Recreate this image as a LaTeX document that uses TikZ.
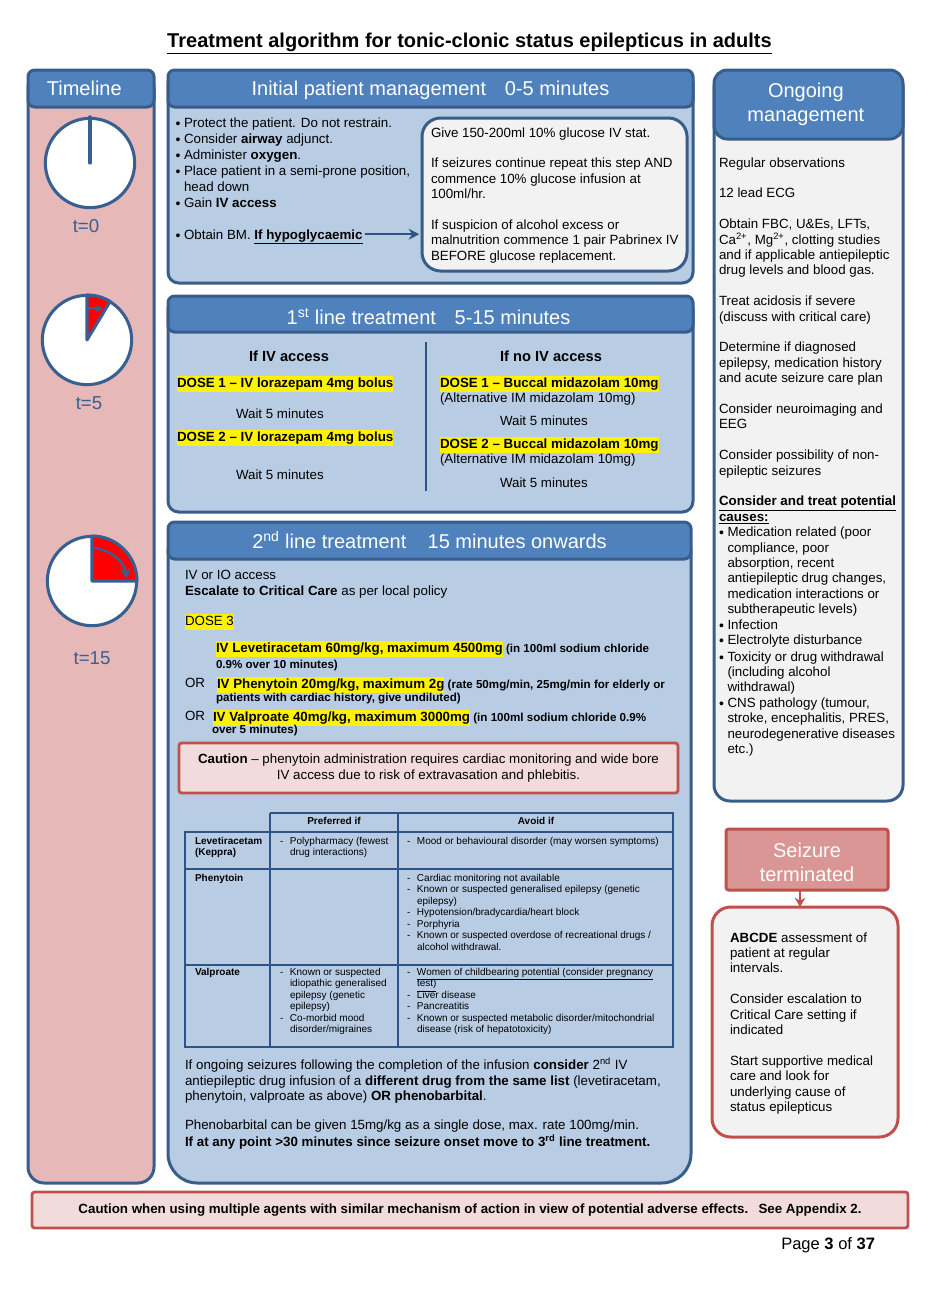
\documentclass[tikz,border=0pt]{standalone}
\usepackage{fontspec}
\setmainfont{Liberation Sans}
\usetikzlibrary{arrows.meta}
\definecolor{hdr}{HTML}{4F81BD}
\definecolor{edge}{HTML}{385D8A}
\definecolor{dk}{HTML}{2C5486}
\definecolor{panel}{HTML}{B8CCE4}
\definecolor{pinkp}{HTML}{E6B8B7}
\definecolor{redb}{HTML}{C0504D}
\definecolor{redf}{HTML}{DA9694}
\definecolor{pale}{HTML}{F2DCDB}
\definecolor{grey}{HTML}{F2F2F2}
\definecolor{clk}{HTML}{376092}
\tikzset{
  x=0.75pt,y=-0.75pt,
  panelbox/.style={draw=edge,line width=2.25pt,fill=panel,rounded corners=8pt},
  hdrbox/.style={draw=edge,line width=2.25pt,fill=hdr,rounded corners=5pt,text=white,align=center,font=\fontsize{15}{18}\selectfont},
  redbox/.style={draw=redb,line width=2.1pt,fill=pale,rounded corners=2pt},
  tline/.style={draw=dk,line width=1.6pt},
  clockface/.style={draw=clk,line width=2.3pt,fill=white},
  clocklabel/.style={text=clk,font=\fontsize{14}{17}\selectfont,inner sep=0pt},
  wedgef/.style={fill=red,draw=clk,line width=2.3pt,line join=round},
  conn/.style={draw=dk,line width=1.4pt,-{Stealth[length=8pt,width=8pt]}}
}
\newcommand\bx[7]{\pgfmathsetlengthmacro\bw{(#4-#2)*0.75pt}\pgfmathsetlengthmacro\bh{(#5-#3)*0.75pt}\node[#6,inner sep=0pt,outer sep=0pt,minimum width=\bw,minimum height=\bh] (#1) at ({(#2+#4)/2},{(#3+#5)/2}) {#7};}
% name, x, baseline y (px), font size pt, pitch pt, text
\newcommand\tb[6]{\pgfmathsetmacro\yy{#3-0.7*#5/0.75}\node[anchor=north west,inner sep=0pt,outer sep=0pt,align=left,font=\fontsize{#4}{#5}\selectfont] (#1) at (#2,\yy) {\strut#6};}
\newcommand\bul{\makebox[6.4pt][l]{\raisebox{-0.9pt}{\scalebox{1.05}{\textbullet}}}}
\newcommand\ind{\hspace*{6.4pt}}
\newcommand\hl[1]{{\setlength{\fboxsep}{0pt}\colorbox{yellow}{\strut\textbf{#1}}}}
\newcommand\dd{\makebox[7.5pt][l]{-}}
\newcommand\cc{\hspace*{7.5pt}}
\newcommand\sul[1]{\smash{\underline{#1}}}
\begin{document}
\begin{tikzpicture}
\useasboundingbox (0,0) rectangle (941,1289);
\fill[white] (0,0) rectangle (941,1289);
% title
\node[inner sep=0pt,font=\fontsize{15}{18}\selectfont\bfseries] (title) at (469.5,43.5) {\underline{Treatment algorithm for tonic-clonic status epilepticus in adults}};
% timeline
\bx{tlbody}{28}{72}{154}{1183}{panelbox,fill=pinkp,rounded corners=12pt}{}
\bx{tlhead}{28}{70}{154}{107}{hdrbox}{\hspace*{-10pt}Timeline}
\node[circle,clockface,minimum size=67pt,inner sep=0pt] (c0) at (90,163) {};
\draw[draw=clk,line width=2.3pt,line cap=round] (c0.center) -- (c0.north);
\node[clocklabel] (t0) at (86,226) {t=0};
\node[circle,clockface,minimum size=67pt,inner sep=0pt] (c5) at (87,340) {};
\draw[wedgef] (c5.center) -- (87,295) arc (-90:-59:45) -- cycle;
\draw[draw=clk,line width=1.5pt,-{Stealth[length=6pt,width=6pt]}] (88,308) -- (103,309);
\node[clocklabel] (t5) at (89,403) {t=5};
\node[circle,clockface,minimum size=67pt,inner sep=0pt] (c15) at (92,581) {};
\draw[wedgef] (c15.center) -- (92,536) arc (-90:0:45) -- cycle;
\draw[draw=clk,line width=1.8pt,-{Stealth[length=8pt,width=8pt]}] (92,548) .. controls (110,549) and (124,561) .. (127,579);
\node[clocklabel] (t15) at (92,658) {t=15};
% initial
\bx{inbody}{168}{72}{693}{283}{panelbox}{}
\bx{inhead}{168}{70}{693}{107}{hdrbox}{\rule{0pt}{14pt}Initial patient management\hspace{14pt}0-5 minutes}
\tb{inlist}{175.5}{127}{10}{12}{\bul Protect the patient. Do not restrain.\\\bul Consider \textbf{airway} adjunct.\\\bul Administer \textbf{oxygen}.\\\bul Place patient in a semi-prone position,\\\ind head down\\\bul Gain \textbf{IV access}}
\tb{inbm}{175.5}{239}{10}{11.9}{\bul Obtain BM. \textbf{\underline{If hypoglycaemic}}}
\bx{glu}{422}{118}{687}{271}{panelbox,fill=grey,rounded corners=14pt}{}
\tb{glutxt}{431}{137}{10}{11.55}{Give 150-200ml 10\% glucose IV stat.\\\mbox{}\\If seizures continue repeat this step AND\\commence 10\% glucose infusion at\\100ml/hr.\\\mbox{}\\If suspicion of alcohol excess or\\malnutrition commence 1 pair Pabrinex IV\\BEFORE glucose replacement.}
\draw[conn,shorten <=1.5pt,shorten >=2pt] ([yshift=1.5pt]inbm.east) -- ([yshift=1.5pt]inbm.east -| glu.west);
% first line
\bx{fsbody}{168}{298}{693}{512}{panelbox}{}
\bx{fshead}{168}{296}{693}{332}{hdrbox}{\rule{0pt}{16.5pt}\hspace*{-3pt}1\textsuperscript{st} line treatment\hspace{14pt}5-15 minutes}
\node[inner sep=0pt,font=\fontsize{11}{13}\selectfont\bfseries] (ifiv) at (289,356) {If IV access};
\node[inner sep=0pt,font=\fontsize{11}{13}\selectfont\bfseries] (ifno) at (551,356) {If no IV access};
\coordinate (divt) at (426,342);
\coordinate (divb) at (426,491);
\draw[draw=dk,line width=2.2pt] (divt) -- (divb);
\tb{d1a}{177}{387}{10}{11.55}{\hl{DOSE 1 – IV lorazepam 4mg bolus}}
\tb{w1a}{236}{418}{10}{11.55}{Wait 5 minutes}
\tb{d2a}{177}{441}{10}{11.55}{\hl{DOSE 2 – IV lorazepam 4mg bolus}}
\tb{w2a}{236}{479}{10}{11.55}{Wait 5 minutes}
\tb{d1b}{440}{387}{10}{11.55}{\hl{DOSE 1 – Buccal midazolam 10mg}\\(Alternative IM midazolam 10mg)}
\tb{w1b}{500}{425}{10}{11.55}{Wait 5 minutes}
\tb{d2b}{440}{448}{10}{11.55}{\hl{DOSE 2 – Buccal midazolam 10mg}\\(Alternative IM midazolam 10mg)}
\tb{w2b}{500}{487}{10}{11.55}{Wait 5 minutes}
% second line
\bx{sebody}{168}{524}{691}{1183}{panelbox,rounded corners=22pt}{}
\bx{sehead}{168}{522}{691}{559}{hdrbox}{2\textsuperscript{nd} line treatment\hspace{16pt}15 minutes onwards}
\tb{acc}{185}{579.5}{10}{11.9}{IV or IO access\\\textbf{Escalate to Critical Care} as per local policy}
\tb{dose3}{185}{625}{10}{11.55}{{\setlength{\fboxsep}{0pt}\colorbox{yellow}{\strut DOSE 3}}}
\tb{lev}{216}{652}{8.7}{12}{{\fontsize{10}{12}\selectfont\hl{IV Levetiracetam 60mg/kg, maximum 4500mg}} \textbf{(in 100ml sodium chloride}\\\textbf{0.9\% over 10 minutes)}}
\tb{or1}{185}{687}{10}{11.55}{OR}
\tb{phe}{217}{686.5}{8.7}{10.4}{{\fontsize{10}{12}\selectfont\hl{IV Phenytoin 20mg/kg, maximum 2g}} \textbf{(rate 50mg/min, 25mg/min for elderly or}}
\tb{phe2}{216}{701}{8.7}{10.4}{\textbf{patients with cardiac history, give undiluted)}}
\tb{or2}{185}{720}{10}{11.55}{OR}
\tb{val}{213}{719.5}{8.7}{10.4}{{\fontsize{10}{12}\selectfont\hl{IV Valproate 40mg/kg, maximum 3000mg}} \textbf{(in 100ml sodium chloride 0.9\%}}
\tb{val2}{212}{733}{8.7}{10.4}{\textbf{over 5 minutes)}}
\bx{caut}{179}{743}{678}{793}{redbox,align=center,font=\fontsize{10}{11.55}\selectfont}{\textbf{Caution} – phenytoin administration requires cardiac monitoring and wide bore\\IV access due to risk of extravasation and phlebitis.}
% table
\draw[tline] (270,813) -- (673,813) -- (673,1047) -- (185,1047) -- (185,832) -- (673,832);
\draw[tline] (270,813) -- (270,1047);
\draw[tline] (398,813) -- (398,1047);
\draw[tline] (185,869) -- (673,869);
\draw[tline] (185,965) -- (673,965);
\node[inner sep=0pt,font=\fontsize{7.5}{8.6}\selectfont\bfseries] (h1) at (334,821) {Preferred if};
\node[inner sep=0pt,font=\fontsize{7.5}{8.6}\selectfont\bfseries] (h2) at (536,821) {Avoid if};
\tb{r1a}{195}{844.5}{7.5}{8.6}{\textbf{Levetiracetam}\\\textbf{(Keppra)}}
\tb{r1b}{280}{844.5}{7.5}{8.6}{\dd Polypharmacy (fewest\\\cc drug interactions)}
\tb{r1c}{407}{844.5}{7.5}{8.6}{\dd Mood or behavioural disorder (may worsen symptoms)}
\tb{r2a}{195}{881.5}{7.5}{8.6}{\textbf{Phenytoin}}
\tb{r2c}{407}{881.5}{7.5}{8.6}{\dd Cardiac monitoring not available\\\dd Known or suspected generalised epilepsy (genetic\\\cc epilepsy)\\\dd Hypotension/bradycardia/heart block\\\dd Porphyria\\\dd Known or suspected overdose of recreational drugs /\\\cc alcohol withdrawal.}
\tb{r3a}{195}{975.5}{7.5}{8.6}{\textbf{Valproate}}
\tb{r3b}{280}{975.5}{7.5}{8.6}{\dd Known or suspected\\\cc idiopathic generalised\\\cc epilepsy (genetic\\\cc epilepsy)\\\dd Co-morbid mood\\\cc disorder/migraines}
\tb{r3c}{407}{975.5}{7.5}{8.6}{\dd \sul{Women of childbearing potential (consider pregnancy}\\\cc \sul{test)}\\\dd Liver disease\\\dd Pancreatitis\\\dd Known or suspected metabolic disorder/mitochondrial\\\cc disease (risk of hepatotoxicity)}
% after table
\tb{aft}{185}{1069}{10}{11.55}{If ongoing seizures following the completion of the infusion \textbf{consider} 2\textsuperscript{nd} IV\\antiepileptic drug infusion of a \textbf{different drug from the same list} (levetiracetam,\\phenytoin, valproate as above) \textbf{OR phenobarbital}.}
\tb{aft2}{185}{1129}{10}{11.55}{Phenobarbital can be given 15mg/kg as a single dose, max. rate 100mg/min.\\\textbf{If at any point >30 minutes since seizure onset move to 3\textsuperscript{rd} line treatment.}}
% ongoing
\bx{onbody}{714}{72}{903}{801}{panelbox,fill=grey,rounded corners=12pt}{}
\bx{onhead}{714}{70}{903}{139}{hdrbox,rounded corners=10pt}{\hspace*{-4pt}Ongoing\\\hspace*{-4pt}management}
\tb{ontxt}{719}{167}{10}{11.55}{Regular observations\\\mbox{}\\12 lead ECG\\\mbox{}\\Obtain FBC, U\&Es, LFTs,\\Ca\textsuperscript{2+}, Mg\textsuperscript{2+}, clotting studies\\and if applicable antiepileptic\\drug levels and blood gas.\\\mbox{}\\Treat acidosis if severe\\(discuss with critical care)\\\mbox{}\\Determine if diagnosed\\epilepsy, medication history\\and acute seizure care plan\\\mbox{}\\Consider neuroimaging and\\EEG\\\mbox{}\\Consider possibility of non-\\epileptic seizures\\\mbox{}\\\textbf{\sul{Consider and treat potential}}\\\textbf{\sul{causes:}}\\\bul Medication related (poor\\\ind compliance, poor\\\ind absorption, recent\\\ind antiepileptic drug changes,\\\ind medication interactions or\\\ind subtherapeutic levels)\\\bul Infection\\\bul Electrolyte disturbance}
\tb{ontx2}{719}{661}{10}{11.55}{\bul Toxicity or drug withdrawal\\\ind (including alcohol\\\ind withdrawal)\\\bul CNS pathology (tumour,\\\ind stroke, encephalitis, PRES,\\\ind neurodegenerative diseases\\\ind etc.)}
% seizure terminated
\bx{term}{726}{829}{888}{890}{hdrbox,fill=redf,draw=redb,rounded corners=2pt}{\rule{0pt}{15pt}Seizure\\terminated}
\bx{abcde}{712}{907}{898}{1137}{panelbox,fill=grey,draw=redb,rounded corners=14pt}{}
\tb{abtxt}{730}{942}{10}{11.55}{\textbf{ABCDE} assessment of\\patient at regular\\intervals.\\\mbox{}\\Consider escalation to\\Critical Care setting if\\indicated\\\mbox{}\\Start supportive medical\\care and look for\\underlying cause of\\status epilepticus}
\draw[draw=redb,line width=1.6pt,-{Stealth[length=7pt,width=8pt]}] ([xshift=-5.25pt]term.south) -- ([xshift=-5.25pt]term.south |- abcde.north);
% bottom
\bx{botc}{32}{1192}{908}{1228}{redbox,font=\fontsize{10}{12}\selectfont\bfseries}{Caution when using multiple agents with similar mechanism of action in view of potential adverse effects.\hspace{4pt} See Appendix 2.}
\node[anchor=base west,inner sep=0pt,font=\fontsize{12.4}{14}\selectfont] (page) at (781,1249) {Page \textbf{3} of \textbf{37}};
\end{tikzpicture}
\end{document}
